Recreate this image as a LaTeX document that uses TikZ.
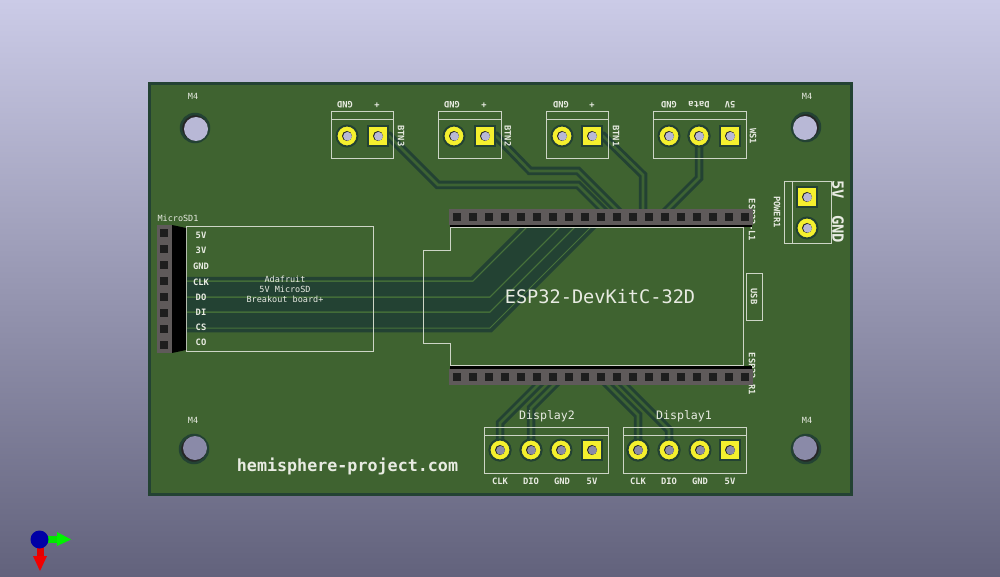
\documentclass[tikz,border=0pt]{standalone}
\usepackage{fontspec}
\setmainfont{DejaVu Sans Mono}
\definecolor{bgtop}{HTML}{CBCBE7}
\definecolor{bgbottom}{HTML}{62627C}
\definecolor{boardgreen}{HTML}{3F6330}
\definecolor{trackdark}{HTML}{234233}
\definecolor{trackmid}{HTML}{3D6333}
\definecolor{bandline}{HTML}{47723A}
\definecolor{padyellow}{HTML}{F5F02E}
\definecolor{holelight}{HTML}{B8B8D6}
\definecolor{holedark}{HTML}{8A8AA8}
\definecolor{silk}{HTML}{E8EBE2}
\definecolor{silkline}{HTML}{CDD5C6}
\definecolor{headergrey}{HTML}{5F5A5A}
\definecolor{pinblack}{HTML}{1E1E1E}

\begin{document}
\begin{tikzpicture}
  [ x=1pt, y=-1pt,
    track/.style={line width=8.5pt, trackdark, line join=miter},
    trackcore/.style={line width=2.6pt, trackmid, line join=miter},
    bandcore/.style={line width=1pt, bandline, line join=miter},
    outline/.style={draw=silkline, line width=1pt},
    padround/.style={circle, fill=padyellow, draw=trackdark, line width=2pt, minimum size=21pt, inner sep=0pt},
    padsquare/.style={rectangle, fill=padyellow, draw=trackdark, line width=2pt, minimum size=20pt, inner sep=0pt},
    mounthole/.style={circle, fill=black!85, draw=trackdark, line width=2.5pt, minimum size=28pt, inner sep=0pt},
    header/.style={rectangle, fill=headergrey, inner sep=0pt},
    pin/.style={rectangle, fill=pinblack, minimum size=8pt, inner sep=0pt},
    silktext/.style={text=silk, font=\fontsize{8.8}{10}\bfseries\selectfont, inner sep=0pt},
    plaintext/.style={text=silk, font=\fontsize{8.5}{10}\selectfont, inner sep=0pt},
    toptext/.style={silktext, rotate=180},
    sidetext/.style={silktext, rotate=-90},
    powertext/.style={silktext, rotate=-90, font=\fontsize{15.5}{16}\bfseries\selectfont}
  ]

  \useasboundingbox (0,0) rectangle (1000,577);
  \shade[top color=bgtop, bottom color=bgbottom] (0,0) rectangle (1000,577);
  \draw[fill=boardgreen, draw=trackdark, line width=3pt] (149.5,83.5) rectangle (851.5,494.5);

  \node[padsquare] (btnthreeplus) at (378,136) {};
  \node[padround] (btnthreegnd) at (347,136) {};
  \node[padsquare] (btntwoplus) at (485,136) {};
  \node[padround] (btntwognd) at (454,136) {};
  \node[padsquare] (btnoneplus) at (592,136) {};
  \node[padround] (btnonegnd) at (562,136) {};
  \node[padsquare] (wsfive) at (730,136) {};
  \node[padround] (wsdata) at (699,136) {};
  \node[padround] (wsgnd) at (669,136) {};
  \node[padsquare] (powerfive) at (807,197) {};
  \node[padround] (powergnd) at (807,228) {};
  \node[padround] (distwoclk) at (500,450) {};
  \node[padround] (distwodio) at (531,450) {};
  \node[padround] (distwognd) at (561,450) {};
  \node[padsquare] (distwofive) at (592,450) {};
  \node[padround] (disoneclk) at (638,450) {};
  \node[padround] (disonedio) at (669,450) {};
  \node[padround] (disonegnd) at (700,450) {};
  \node[padsquare] (disonefive) at (730,450) {};

  \coordinate (sdclk) at (186,281);
  \coordinate (sddo) at (186,297);
  \coordinate (sddi) at (186,312);
  \coordinate (sdcs) at (186,328);

  \fill[trackdark] (sdclk) -- (473,281) -- (537,217) -- (601,217) -- (490,328) -- (sdcs) -- cycle;
  \foreach \s in {track,trackcore} {
    \draw[\s] (btnthreeplus.center) -- (389,136) -- (438,185) -- (578,185) -- (610,217);
    \draw[\s] (btntwoplus.center) -- (496,136) -- (530,171) -- (578,171) -- (624,217);
    \draw[\s] (btnoneplus.center) -- (603,136) -- (643,175) -- (643,217);
    \draw[\s] (wsdata.center) -- (699,178) -- (660,217);
    \draw[\s] (distwoclk.center) -- (500,423) -- (546,377);
    \draw[\s] (distwodio.center) -- (531,408) -- (562,377);
    \draw[\s] (disoneclk.center) -- (638,415) -- (600,377);
    \draw[\s] (disonedio.center) -- (669,430) -- (616,377);
  }
  \foreach \s in {track,bandcore} {
    \draw[\s] (sdclk) -- (473,281) -- (537,217);
    \draw[\s] (sddo) -- (490,297) -- (570,217);
    \draw[\s] (sddi) -- (490,312) -- (585,217);
    \draw[\s] (sdcs) -- (490,328) -- (601,217);
  }
  \draw[bandcore] (sdclk) -- (473,281) -- (537,217);
  \draw[bandcore] (sddo) -- (490,297) -- (570,217);
  \draw[bandcore] (sddi) -- (490,312) -- (585,217);

  \node[padsquare] at (btnthreeplus) {};
  \node[padsquare] at (btntwoplus) {};
  \node[padsquare] at (btnoneplus) {};
  \node[padround] at (wsdata) {};
  \node[padround] at (distwoclk) {};
  \node[padround] at (distwodio) {};
  \node[padround] at (disoneclk) {};
  \node[padround] at (disonedio) {};

  \foreach \p/\c in {btnthreeplus/holelight,btnthreegnd/holelight,btntwoplus/holelight,btntwognd/holelight,btnoneplus/holelight,btnonegnd/holelight,wsfive/holelight,wsdata/holelight,wsgnd/holelight,powerfive/holelight,powergnd/holelight,distwoclk/holedark,distwodio/holedark,distwognd/holedark,distwofive/holedark,disoneclk/holedark,disonedio/holedark,disonegnd/holedark,disonefive/holedark} {
    \fill[black!85] (\p.center) circle (5pt);
    \fill[\c] ([xshift=0.5pt,yshift=-0.3pt]\p.center) circle (4.4pt);
  }

  \foreach \n/\x/\y/\dx/\dy/\c in {holea/195/128/1/-1/holelight,holeb/806/127/-1/-1/holelight,holec/194/449/1/1/holedark,holed/806/449/-1/1/holedark} {
    \node[mounthole] (\n) at (\x,\y) {};
    \fill[\c] ([xshift=\dx pt,yshift=\dy pt]\n.center) circle (12pt);
  }

  \draw[outline] (331,112) rectangle (393,159) (331,120) -- (393,120);
  \draw[outline] (438,112) rectangle (501,159) (438,120) -- (501,120);
  \draw[outline] (546,112) rectangle (608,159) (546,120) -- (608,120);
  \draw[outline] (653,112) rectangle (746,159) (653,120) -- (746,120);
  \draw[outline] (784,182) rectangle (831,243) (792,182) -- (792,243);
  \draw[outline] (484,427) rectangle (608,473) (484,435) -- (608,435);
  \draw[outline] (623,427) rectangle (746,473) (623,435) -- (746,435);
  \draw[outline] (186,227) rectangle (373,351);
  \draw[outline] (746,273) rectangle (762,320);
  \draw[outline] (450,228) -- (743,228) -- (743,365) -- (450,365) -- (450,343) -- (423.5,343) -- (423.5,250.5) -- (450,250.5) -- cycle;

  \node[silktext] (usb) [rotate=-90] at (754,296.5) {USB};
  \node[silktext] (modulename) [font=\fontsize{18.6}{20}\selectfont] at (600,297) {ESP32-DevKitC-32D};
  \node[silktext] (website) [font=\fontsize{16.7}{18}\bfseries\selectfont] at (347.5,466) {hemisphere-project.com};
  \node[sidetext] (esplone) at (752,220) {ESP32-L1};
  \node[sidetext] (esprone) at (752,374) {ESP32-R1};
  \node[sidetext] (btnthreename) at (401,136) {BTN3};
  \node[sidetext] (btntwoname) at (508,136) {BTN2};
  \node[sidetext] (btnonename) at (616,136) {BTN1};
  \node[sidetext] (wsname) at (753,136) {WS1};
  \node[sidetext] (powername) at (777,212) {POWER1};
  \node[powertext] (powerfivetext) at (838,190) {5V};
  \node[powertext] (powergndtext) at (838,229) {GND};

  \foreach \n/\t/\x in {gnda/GND/345,plusa/+/377,gndb/GND/452,plusb/+/484,gndc/GND/561,plusc/+/592,gndd/GND/669,datad/Data/699,fived/5V/730}
    \node[toptext] (\n) at (\x,105) {\t};

  \foreach \n/\t/\x in {clka/CLK/500,dioa/DIO/531,gnde/GND/562,fivea/5V/592,clkb/CLK/638,diob/DIO/669,gndf/GND/700,fiveb/5V/730}
    \node[silktext] (\n) at (\x,481) {\t};

  \foreach \n/\x/\y in {ma/193/96,mb/807/96,mc/193/420,md/807/420}
    \node[plaintext] (\n) at (\x,\y) {M4};

  \node[plaintext] (distwoname) [font=\fontsize{11.6}{13}\selectfont] at (547,416) {Display2};
  \node[plaintext] (disonename) [font=\fontsize{11.6}{13}\selectfont] at (684,416) {Display1};
  \node[plaintext] (sdname) at (178,218) {MicroSD1};
  \node[plaintext] (adafruit) at (285,279) {Adafruit};
  \node[plaintext] (microsd) at (285,289) {5V MicroSD};
  \node[plaintext] (breakout) at (285,299) {Breakout board+};

  \foreach \n/\t/\y in {sda/5V/235,sdb/3V/250,sdc/GND/266,sdd/CLK/282,sde/DO/297,sdf/DI/312,sdg/CS/327,sdh/CO/342}
    \node[silktext] (\n) at (201,\y) {\t};

  \fill[black] (450,225) rectangle (752,227.5);
  \fill[black] (450,366) rectangle (752,369);
  \node[header, minimum width=304pt, minimum height=16.5pt] (headertop) at (601,217.2) {};
  \node[header, minimum width=304pt, minimum height=16.5pt] (headerbottom) at (601,377.2) {};
  \foreach \i in {0,...,18} {
    \node[pin] (topa\i) at (457+16*\i,217) {};
    \node[pin] (bota\i) at (457+16*\i,377) {};
  }
  \fill[black] (172,225) -- (186,228) -- (186,350) -- (172,353) -- cycle;
  \node[header, minimum width=15pt, minimum height=128pt] (headersd) at (164.5,289) {};
  \foreach \i in {0,...,7}
    \node[pin] (sdpin\i) at (164,233+16*\i) {};

  \fill[red!90!black] (37,547) rectangle (44,557);
  \fill[red!95!black] (33,556) -- (47,556) -- (40,571) -- cycle;
  \fill[green!90!black] (47,536) rectangle (58,543);
  \fill[green!95!black] (57,532) -- (71,539.5) -- (57,546) -- cycle;
  \fill[blue!65!black] (39.5,539.5) circle (9pt);
\end{tikzpicture}
\end{document}
